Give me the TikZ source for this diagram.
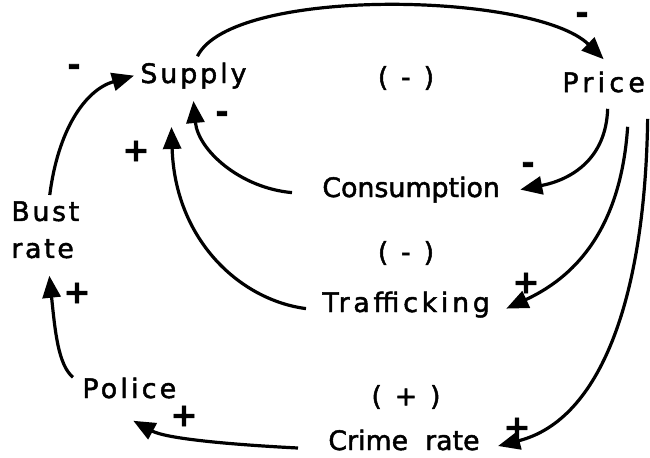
\documentclass[tikz,border=0pt]{standalone}
\usepackage{fontspec}
\usepackage{tikz}
\usetikzlibrary{arrows.meta,positioning}
\newfontfamily\varfont{DejaVu Sans}[FakeBold=1.8]
\newcommand{\Svar}[1]{\fontsize{13.4}{18.5}\varfont\addfontfeature{LetterSpace=#1}\selectfont}
\newcommand{\Ssign}{\fontsize{16}{16}\varfont\bfseries}
\tikzset{
  var/.style={inner sep=3pt,anchor=base west,font=\Svar{#1}},
  var/.default=0,
  sgn/.style={inner sep=0pt,font=\Ssign},
  loopsgn/.style={inner sep=0pt,font=\Svar{16}},
  link/.style={-{Triangle[length=11pt,width=9pt]},line width=1.6pt}
}

\begin{document}
\begin{tikzpicture}[x=0.5pt,y=0.5pt]
\useasboundingbox (0,0) rectangle (650,-457);
% variables
\node (supply) [var=11] at (134,-83) {Supply};
\node (price) [var=16] at (556,-92) {Price};
\node (consumption) [var=0] at (316,-197) {Consumption};
\node (trafficking) [var=14] at (316,-312) {Trafficking};
\node (crime) [var=0] at (322,-450) {Crime\ \ rate};
\node (police) [var=12] at (76,-398) {Police};
\node (bust) [var=10,anchor=north west,align=left] at (5,-195) {Bust\\rate};
% loop polarities
\node (lp1) [loopsgn] at (406,-78) {( - )};
\node (lp2) [loopsgn] at (406,-253) {( - )};
\node (lp3) [loopsgn] at (406,-397) {( + )};
% link polarities
\node (sg1) [sgn] at (74,-70) {-};
\node (sg2) [sgn] at (222,-117) {-};
\node (sg3) [sgn] at (136,-151) {+};
\node (sg4) [sgn] at (77,-293) {+};
\node (sg5) [sgn] at (184,-416) {+};
\node (sg6) [sgn] at (582,-18) {-};
\node (sg7) [sgn] at (528,-168) {-};
\node (sg8) [sgn] at (526,-283) {+};
\node (sg9) [sgn] at (517,-428) {+};
%
\draw[link] (bust) .. controls (58,-130) and (85,-90) .. (supply.west);
\draw[link] ([xshift=2pt]supply.north) .. controls (232,14) and (535,8) .. ([yshift=3pt]price.north);
\draw[link] ([xshift=2pt,yshift=-5pt]price.south) .. controls (606,-160) and (570,-180) .. ([xshift=7pt]consumption.east);
\draw[link] ([xshift=-12pt,yshift=-1.5pt]consumption.west) .. controls (240,-188) and (198,-150) .. ([yshift=-3pt]supply.south);
\draw[link] ([xshift=-5pt,yshift=-2pt]trafficking.west) .. controls (240,-300) and (175,-240) .. ([xshift=-11pt,yshift=-16pt]supply.south);
\draw[link] ([xshift=12pt,yshift=-14pt]price.south) .. controls (622,-210) and (590,-270) .. ([xshift=5pt,yshift=-2pt]trafficking.east);
\draw[link] ([xshift=22pt,yshift=-10pt]price.south) .. controls (645,-300) and (600,-420) .. ([xshift=6pt,yshift=-3pt]crime.east);
\draw[link] ([xshift=-12pt,yshift=-4pt]crime.west) .. controls (220,-444) and (165,-438) .. ([xshift=2pt,yshift=-8pt]police.south);
\draw[link] ([xshift=-1.5pt,yshift=-3pt]police.north west) .. controls (58,-365) and (55,-330) .. ([xshift=2pt,yshift=-5.5pt]bust.south);
\end{tikzpicture}
\end{document}
